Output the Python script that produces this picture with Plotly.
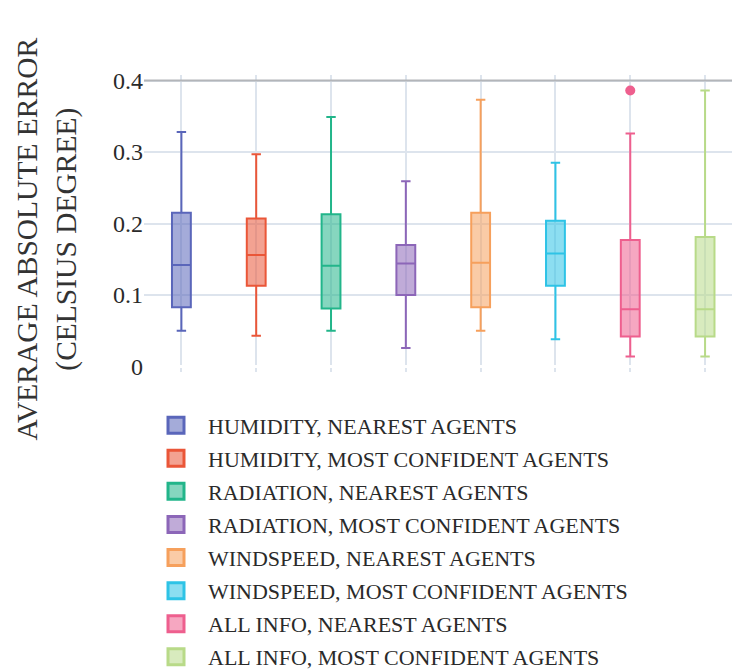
import plotly.graph_objects as go

# Error statistics per feature set / agent-selection strategy
names = [
    "HUMIDITY, NEAREST AGENTS",
    "HUMIDITY, MOST CONFIDENT AGENTS",
    "RADIATION, NEAREST AGENTS",
    "RADIATION, MOST CONFIDENT AGENTS",
    "WINDSPEED, NEAREST AGENTS",
    "WINDSPEED, MOST CONFIDENT AGENTS",
    "ALL INFO, NEAREST AGENTS",
    "ALL INFO, MOST CONFIDENT AGENTS",
]
lower_fence = [0.050, 0.043, 0.050, 0.026, 0.050, 0.038, 0.014, 0.014]
q1 = [0.083, 0.113, 0.081, 0.100, 0.083, 0.113, 0.042, 0.042]
median = [0.142, 0.156, 0.141, 0.144, 0.145, 0.158, 0.080, 0.080]
q3 = [0.215, 0.207, 0.213, 0.170, 0.215, 0.204, 0.177, 0.181]
upper_fence = [0.328, 0.297, 0.349, 0.259, 0.373, 0.285, 0.326, 0.386]
outliers = [[], [], [], [], [], [], [0.386], []]

y_ticks = [0, 0.1, 0.2, 0.3, 0.4]
y_ticktext = ["0", "0.1", "0.2", "0.3", "0.4"]
reference_level = 0.4
y_title = "AVERAGE ABSOLUTE ERROR<br>(CELSIUS DEGREE)"

colors = ["#5A66BA", "#EA5638", "#22B58A", "#8C66B8",
          "#F6A05C", "#2EC3E6", "#EE5F8E", "#B8DA88"]


def rgba(hex_color, alpha):
    h = hex_color.lstrip("#")
    r, g, b = int(h[0:2], 16), int(h[2:4], 16), int(h[4:6], 16)
    return f"rgba({r},{g},{b},{alpha})"


FONT = "Liberation Serif, Times New Roman, serif"

fig = go.Figure()

for i, name in enumerate(names):
    fig.add_trace(go.Box(
        x=[name],
        q1=[q1[i]], median=[median[i]], q3=[q3[i]],
        lowerfence=[lower_fence[i]], upperfence=[upper_fence[i]],
        name=name,
        legendgroup=name,
        showlegend=False,
        line=dict(color=colors[i], width=2),
        fillcolor=rgba(colors[i], 0.55),
        whiskerwidth=0.5,
        boxpoints=False,
    ))
    if outliers[i]:
        fig.add_trace(go.Scatter(
            x=[name] * len(outliers[i]), y=outliers[i],
            mode="markers", legendgroup=name, showlegend=False,
            marker=dict(color=colors[i], size=10),
            hoverinfo="y",
        ))
    # legend entry with a larger square swatch
    fig.add_trace(go.Scatter(
        x=[None], y=[None], mode="markers", name=name,
        legendgroup=name, showlegend=True,
        marker=dict(symbol="square", size=16, color=rgba(colors[i], 0.55),
                    line=dict(color=colors[i], width=3)),
    ))

fig.add_shape(type="line", xref="paper", x0=0, x1=1, yref="y",
              y0=reference_level, y1=reference_level,
              line=dict(color="#B3B5B9", width=2), layer="above")

fig.add_annotation(
    text=y_title, textangle=-90, showarrow=False,
    xref="paper", x=-0.165, xanchor="center",
    yref="paper", y=0.4495, yanchor="middle",
    font=dict(family=FONT, size=29.5, color="#333333"),
)

fig.update_layout(
    width=732, height=670,
    margin=dict(l=144, r=0, t=75, b=298, autoexpand=False),
    plot_bgcolor="white", paper_bgcolor="white",
    font=dict(family=FONT, color="#2a2a2a"),
    boxgap=0.64,
    showlegend=True,
    legend=dict(
        orientation="v", x=0, xanchor="left", y=-0.109, yanchor="top",
        font=dict(family=FONT, size=22, color="#2a2a2a"),
        itemwidth=54, tracegroupgap=1.5,
        bgcolor="rgba(0,0,0,0)",
    ),
    xaxis=dict(
        type="category", categoryorder="array", categoryarray=names,
        range=[-0.5, 7.36], showticklabels=False, ticks="",
        showgrid=True, gridcolor="#DDE4ED", gridwidth=2,
        zeroline=False, showline=False,
    ),
    yaxis=dict(
        range=[-0.0077, 0.4077],
        tickvals=y_ticks, ticktext=y_ticktext, ticks="",
        tickfont=dict(family=FONT, size=24, color="#2a2a2a"),
        showgrid=True, gridcolor="#DDE4ED", gridwidth=2,
        zeroline=True, zerolinecolor="white", zerolinewidth=3,
        showline=False,
    ),
)

fig.write_html("out.html")
